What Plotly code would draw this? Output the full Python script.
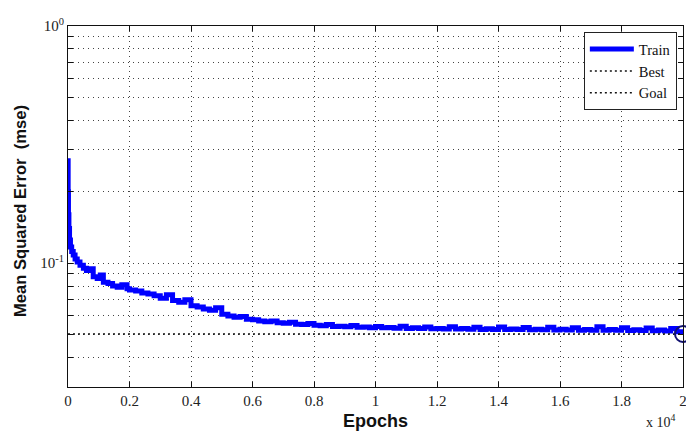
import plotly.graph_objects as go

# ---- data ----
epochs = [0, 5, 15, 30, 50, 80, 120, 170, 230, 300, 390, 500, 600, 700, 820, 950,
          1050, 1150, 1300, 1450, 1600, 1750, 1920,
          2000, 2200, 2400, 2600, 2800, 3000, 3200, 3400, 3600, 3800, 4000, 4200,
          4400, 4600, 4800, 5000, 5200, 5400, 5600, 5800, 6000, 6200, 6400, 6600,
          6800, 7000, 7200, 7400, 7600, 7800, 8000, 8200, 8400, 8600, 8800, 9000,
          9200, 9400, 9600, 9800, 10000, 10200, 10400, 10600, 10800, 11000, 11200,
          11400, 11600, 11800, 12000, 12200, 12400, 12600, 12800, 13000, 13200,
          13400, 13600, 13800, 14000, 14200, 14400, 14600, 14800, 15000, 15200,
          15400, 15600, 15800, 16000, 16200, 16400, 16600, 16800, 17000, 17200,
          17400, 17600, 17800, 18000, 18200, 18400, 18600, 18800, 19000, 19200,
          19400, 19600, 19800, 20000]
train_mse = [0.27, 0.20, 0.16, 0.14, 0.125, 0.117, 0.112, 0.108, 0.104, 0.101, 0.098,
             0.095, 0.093, 0.0945, 0.0875, 0.086, 0.0890, 0.083, 0.082, 0.080, 0.079,
             0.081, 0.078,
             0.0770, 0.0762, 0.0748, 0.0741, 0.0728, 0.0710, 0.0735, 0.0695, 0.0683,
             0.0700, 0.0660, 0.0652, 0.0640, 0.0632, 0.0648, 0.0608, 0.0598, 0.0590,
             0.0595, 0.0580, 0.0576, 0.0570, 0.0566, 0.0570, 0.0560, 0.0557, 0.0562,
             0.0552, 0.0550, 0.0556, 0.0546, 0.0544, 0.0550, 0.0540, 0.0541, 0.0538,
             0.0545, 0.0536, 0.0537, 0.0534, 0.0540, 0.0533, 0.0535, 0.0531, 0.0541,
             0.0530, 0.0533, 0.0529, 0.0537, 0.0528, 0.0530, 0.0527, 0.0538, 0.0527,
             0.0529, 0.0526, 0.0536, 0.0525, 0.0528, 0.0525, 0.0537, 0.0524, 0.0527,
             0.0524, 0.0535, 0.0523, 0.0526, 0.0523, 0.0536, 0.0522, 0.0526, 0.0522,
             0.0534, 0.0521, 0.0525, 0.0521, 0.0538, 0.0520, 0.0524, 0.0520, 0.0533,
             0.0519, 0.0523, 0.0519, 0.0532, 0.0518, 0.0522, 0.0517, 0.0530, 0.0513,
             0.0506]
best_epoch = 20000
best_mse = 0.0502
goal_mse = 0
x_ticks = [0, 2000, 4000, 6000, 8000, 10000, 12000, 14000, 16000, 18000, 20000]
x_ticklabels = ["0", "0.2", "0.4", "0.6", "0.8", "1", "1.2", "1.4", "1.6", "1.8", "2"]
y_ticks = [0.03, 0.04, 0.05, 0.06, 0.07, 0.08, 0.09, 0.1, 0.2, 0.3, 0.4, 0.5, 0.6,
           0.7, 0.8, 0.9, 1.0]
y_ticklabels = ["", "", "", "", "", "", "", "10<sup>-1</sup>", "", "", "", "", "",
                "", "", "", "10<sup>0</sup>"]

serif = "Liberation Serif, Times New Roman, serif"
sans = "Liberation Sans, Arial, sans-serif"

fig = go.Figure()
fig.add_trace(go.Scatter(x=epochs, y=train_mse, mode="lines", name="Train",
                         line=dict(color="#0000ff", width=5, shape="hv")))
fig.add_trace(go.Scatter(x=[epochs[0], epochs[-1]], y=[best_mse, best_mse], mode="lines",
                         name="Best", line=dict(color="#111111", width=1.5, dash="2px,3px")))
fig.add_trace(go.Scatter(x=[epochs[0], epochs[-1]], y=[goal_mse, goal_mse], mode="lines",
                         name="Goal", line=dict(color="#111111", width=1.5, dash="2px,3px")))
fig.add_trace(go.Scatter(x=[best_epoch], y=[best_mse], mode="markers", showlegend=False,
                         cliponaxis=False,
                         marker=dict(symbol="circle-open", size=16, color="#101070",
                                     line=dict(width=2, color="#101070"))))

fig.update_layout(
    width=686, height=436,
    margin=dict(l=68, r=3, t=26, b=49, autoexpand=False),
    paper_bgcolor="white", plot_bgcolor="white",
    font=dict(family=serif, size=14, color="#222"),
    legend=dict(x=0.990, y=0.983, xanchor="right", yanchor="top",
                bgcolor="white", bordercolor="#222", borderwidth=1,
                font=dict(family=serif, size=14.5, color="#111"),
                tracegroupgap=0, itemwidth=44),
    annotations=[
        dict(text="<b>Mean Squared Error  (mse)</b>", xref="paper", yref="paper",
             x=-0.078, y=0.4875, textangle=-90, showarrow=False,
             xanchor="center", yanchor="middle",
             font=dict(family=sans, size=16.6, color="#111")),
        dict(text="<b>Epochs</b>", xref="paper", yref="paper", x=0.5, y=-0.095,
             showarrow=False, xanchor="center", yanchor="middle",
             font=dict(family=sans, size=18, color="#111")),
        dict(text="x 10<sup>4</sup>", xref="paper", yref="paper", x=0.992, y=-0.095,
             xanchor="right", yanchor="middle", showarrow=False,
             font=dict(family=serif, size=14, color="#222")),
    ],
)
fig.update_xaxes(range=[0, 20000], tickvals=x_ticks, ticktext=x_ticklabels,
                 automargin=False, ticklabeloverflow="allow",
                 showline=True, linecolor="#111", linewidth=1, mirror="ticks",
                 ticks="inside", ticklen=5, tickcolor="#111",
                 showgrid=True, gridcolor="#444", gridwidth=1, griddash="1px,4px",
                 zeroline=False, tickfont=dict(family=serif, size=15, color="#222"))
fig.update_yaxes(type="log", range=[-1.5229, 0], tickvals=y_ticks, ticktext=y_ticklabels,
                 automargin=False,
                 showline=True, linecolor="#111", linewidth=1, mirror="ticks",
                 ticks="inside", ticklen=5, tickcolor="#111",
                 showgrid=True, gridcolor="#444", gridwidth=1, griddash="1px,4px",
                 zeroline=False, tickfont=dict(family=serif, size=15, color="#222"))

fig.write_html("out.html", config={"displayModeBar": False},
               post_script="document.body.style.margin='0';"
                           "document.body.style.overflow='hidden';")
